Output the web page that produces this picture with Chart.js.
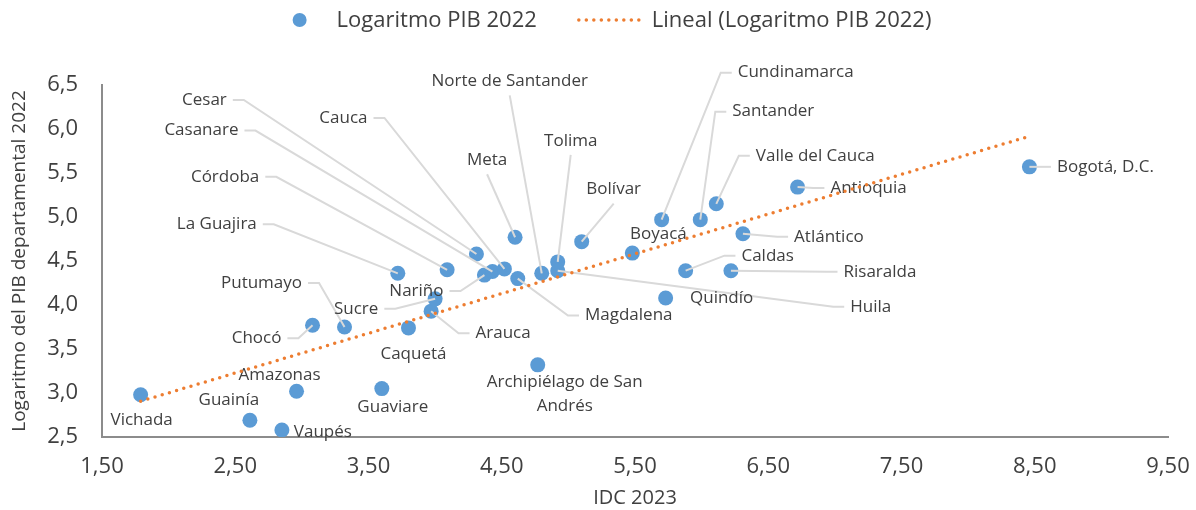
<!DOCTYPE html>
<html lang="es">
<head>
<meta charset="utf-8">
<title>IDC 2023 y PIB departamental 2022</title>
<script src="https://cdn.jsdelivr.net/npm/chart.js@4.4.1/dist/chart.umd.min.js"></script>
<style>
  html, body { margin: 0; padding: 0; background: #fff; }
</style>
</head>
<body>
<canvas id="chart" width="1196" height="510"></canvas>
<script>
// Datos
var departamentos = [
    'Vichada', 'Guainía', 'Vaupés', 'Amazonas', 'Guaviare', 'Chocó', 'Putumayo',
    'Caquetá', 'Arauca', 'Sucre', 'La Guajira', 'Córdoba', 'Cesar', 'Nariño',
    'Casanare', 'Cauca', 'Meta', 'Magdalena', 'Norte de Santander', 'Tolima',
    'Huila', 'Bolívar', 'Boyacá', 'Cundinamarca', 'Santander', 'Valle del Cauca',
    'Atlántico', 'Caldas', 'Risaralda', 'Quindío', 'Archipiélago de San\nAndrés',
    'Antioquia', 'Bogotá, D.C.'
];
var idc2023 = [
    1.79, 2.61, 2.85, 2.96, 3.60, 3.08, 3.32,
    3.80, 3.97, 4.00, 3.72, 4.09, 4.31, 4.37,
    4.43, 4.52, 4.60, 4.62, 4.80, 4.92,
    4.92, 5.10, 5.48, 5.70, 5.99, 6.11,
    6.31, 5.88, 6.22, 5.73, 4.77,
    6.72, 8.46
];
var logPib2022 = [
    2.98, 2.69, 2.58, 3.02, 3.05, 3.77, 3.75,
    3.74, 3.93, 4.07, 4.36, 4.40, 4.58, 4.34,
    4.38, 4.41, 4.77, 4.30, 4.36, 4.49,
    4.39, 4.72, 4.59, 4.97, 4.97, 5.15,
    4.81, 4.39, 4.39, 4.08, 3.32,
    5.34, 5.57
];
var xTickValues = [1.5, 2.5, 3.5, 4.5, 5.5, 6.5, 7.5, 8.5, 9.5];
var yTickValues = [2.5, 3.0, 3.5, 4.0, 4.5, 5.0, 5.5, 6.0, 6.5];

// where each label sits (px from its point) and the side its leader line leaves from
var labelOffsets = [
    [1, 25], [-21, -20], [41, 2], [-17, -16], [11, 19], [-56, 13], [-83, -44],
    [5, 26], [72, 22], [-79, 10], [-181, -49], [-222, -93], [-272, -154], [-68, 16],
    [-291, -141], [-161, -151], [-28, -77], [111, 37], [-32, -192], [13, -121],
    [313, 36], [32, -52], [26, -19], [134, -147], [73, -108], [99, -48],
    [86, 3], [82, -15], [149, 1], [56, 0], [27, 29],
    [71, 1], [76, 0]
];
var leaderFrom = [
    '', '', '', '', '', 'R', 'R',
    '', 'L', 'R', 'R', 'R', 'R', 'R',
    'R', 'R', 'B', 'L', 'B', 'B',
    'L', 'B', '', 'L', 'L', 'L',
    'L', 'L', 'L', '', '',
    'L', 'L'
];

var FONT = '"Open Sans", "DejaVu Sans", sans-serif';

function comma(v, d) {
    return v.toFixed(d).replace('.', ',');
}

// Linea de tendencia (minimos cuadrados, como Excel)
function trendPoints() {
    var n = idc2023.length, sx = 0, sy = 0, sxx = 0, sxy = 0;
    for (var i = 0; i < n; i++) {
        sx += idc2023[i]; sy += logPib2022[i];
        sxx += idc2023[i] * idc2023[i]; sxy += idc2023[i] * logPib2022[i];
    }
    var b = (n * sxy - sx * sy) / (n * sxx - sx * sx);
    var a = (sy - b * sx) / n;
    var x0 = Math.min.apply(null, idc2023), x1 = Math.max.apply(null, idc2023);
    return [{x: x0, y: a + b * x0}, {x: x1, y: a + b * x1}];
}

var points = idc2023.map(function (x, i) { return {x: x, y: logPib2022[i]}; });

/*
 * Etiquetas de departamentos con lineas guia
 */
var labelPlugin = {
    id: 'deptLabels',
    afterDatasetDraw: function (chart, args) {
        if (args.index !== 1) return;
        var ctx = chart.ctx;
        var meta = chart.getDatasetMeta(1);
        var lineH = 24;
        ctx.save();
        ctx.font = '17px ' + FONT;
        ctx.textAlign = 'center';
        ctx.textBaseline = 'middle';
        meta.data.forEach(function (pt, i) {
            var lines = departamentos[i].split('\n');
            var cx = pt.x + labelOffsets[i][0];
            var cy = pt.y + labelOffsets[i][1];
            var w = Math.max.apply(null, lines.map(function (l) { return ctx.measureText(l).width; }));
            var h = lines.length * lineH;
            var mode = leaderFrom[i];
            if (mode) {
                ctx.strokeStyle = '#d9d9d9';
                ctx.lineWidth = 2;
                ctx.beginPath();
                if (mode === 'L') {
                    ctx.moveTo(cx - w / 2 - 6, cy);
                    ctx.lineTo(cx - w / 2 - 17, cy);
                } else if (mode === 'R') {
                    ctx.moveTo(cx + w / 2 + 6, cy);
                    ctx.lineTo(cx + w / 2 + 17, cy);
                } else {
                    ctx.moveTo(cx, cy + h / 2 + 2);
                }
                ctx.lineTo(pt.x, pt.y);
                ctx.stroke();
            }
            ctx.fillStyle = '#404040';
            lines.forEach(function (l, k) {
                ctx.fillText(l, cx, cy - (h - lineH) / 2 + k * lineH);
            });
        });
        ctx.restore();
    }
};

// Leyenda dibujada arriba
var legendPlugin = {
    id: 'topLegend',
    afterDraw: function (chart) {
        var ctx = chart.ctx;
        var t1 = 'Logaritmo PIB 2022', t2 = 'Lineal (Logaritmo PIB 2022)';
        ctx.save();
        ctx.font = '22px ' + FONT;
        ctx.textBaseline = 'middle';
        ctx.textAlign = 'left';
        var w1 = ctx.measureText(t1).width, w2 = ctx.measureText(t2).width;
        var total = 14 + 30 + w1 + 40 + 70 + 5 + w2;
        var x = 612 - total / 2, y = 20;
        ctx.fillStyle = '#5B9BD5';
        ctx.beginPath();
        ctx.arc(x + 7, y, 7, 0, Math.PI * 2);
        ctx.fill();
        x += 44;
        ctx.fillStyle = '#404040';
        ctx.fillText(t1, x, y + 1);
        x += w1 + 40;
        ctx.strokeStyle = '#ED7D31';
        ctx.lineWidth = 3.5;
        ctx.lineCap = 'round';
        ctx.setLineDash([0, 7.5]);
        ctx.beginPath();
        ctx.moveTo(x + 2, y);
        ctx.lineTo(x + 68, y);
        ctx.stroke();
        ctx.setLineDash([]);
        x += 75;
        ctx.fillText(t2, x, y + 1);
        ctx.restore();
    }
};

var ctx = document.getElementById('chart').getContext('2d');
var chart = new Chart(ctx, {
    type: 'scatter',
    data: {
        datasets: [{
            type: 'line',
            label: 'Lineal (Logaritmo PIB 2022)',
            data: trendPoints(),
            borderColor: '#ED7D31',
            borderWidth: 3.5,
            borderDash: [0, 7.5],
            borderCapStyle: 'round',
            pointRadius: 0,
            fill: false,
            order: 0
        }, {
            label: 'Logaritmo PIB 2022',
            data: points,
            backgroundColor: '#5B9BD5',
            borderWidth: 0,
            pointRadius: 7.5,
            pointHoverRadius: 7.5,
            order: 1
        }]
    },
    options: {
        responsive: false,
        animation: false,
        events: [],
        layout: {
            padding: {top: 85, right: 28, left: 0, bottom: 0}
        },
        plugins: {
            legend: {display: false},
            tooltip: {enabled: false}
        },
        scales: {
            x: {
                type: 'linear',
                min: 1.5,
                max: 9.5,
                grid: {display: false, drawTicks: false},
                border: {display: true, color: '#8c8c8c', width: 2},
                afterBuildTicks: function (s) {
                    s.ticks = xTickValues.map(function (v) { return {value: v}; });
                },
                afterFit: function (s) {
                    s.height = 73;
                    s.paddingLeft = 0;
                    s.paddingRight = 0;
                },
                ticks: {
                    color: '#404040',
                    font: {family: FONT, size: 22},
                    padding: 17,
                    maxRotation: 0,
                    callback: function (v) { return comma(v, 2); }
                },
                title: {
                    display: true,
                    text: 'IDC 2023',
                    color: '#404040',
                    font: {family: FONT, size: 20},
                    padding: {top: 0, bottom: 0}
                }
            },
            y: {
                type: 'linear',
                min: 2.5,
                max: 6.5,
                grid: {display: false, drawTicks: false},
                border: {display: true, color: '#8c8c8c', width: 2},
                afterBuildTicks: function (s) {
                    s.ticks = yTickValues.map(function (v) { return {value: v}; });
                },
                afterFit: function (s) { s.width = 102; },
                ticks: {
                    color: '#404040',
                    font: {family: FONT, size: 22},
                    padding: 24,
                    callback: function (v) { return comma(v, 1); }
                },
                title: {
                    display: true,
                    text: 'Logaritmo del PIB departamental 2022',
                    color: '#404040',
                    font: {family: FONT, size: 19},
                    padding: {top: 8, bottom: 0}
                }
            }
        }
    },
    plugins: [labelPlugin, legendPlugin]
});
</script>
</body>
</html>
